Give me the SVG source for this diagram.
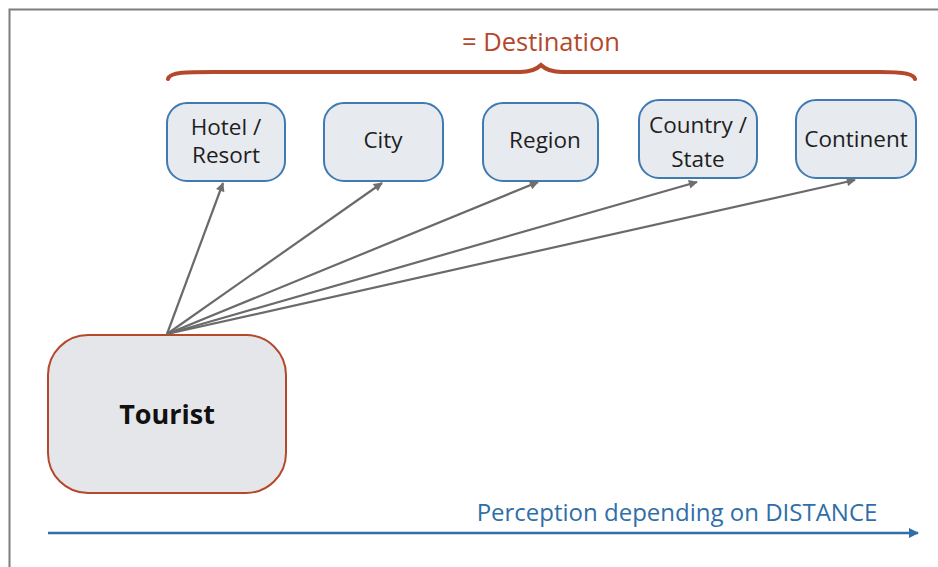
<svg xmlns="http://www.w3.org/2000/svg" width="938" height="567" viewBox="0 0 938 567">
  <defs>
    <marker id="gray-head" viewBox="0 0 10 10" refX="9" refY="5" markerWidth="11" markerHeight="9" markerUnits="userSpaceOnUse" orient="auto">
      <path d="M0,0 L10,5 L0,10 z" fill="#6f6f6f"/>
    </marker>
    <marker id="blue-head" viewBox="0 0 10 10" refX="9" refY="5" markerWidth="14" markerHeight="10" markerUnits="userSpaceOnUse" orient="auto">
      <path d="M0,0 L10,5 L0,10 z" fill="#2f6ea8"/>
    </marker>
  </defs>
  <style>
    .level { fill: #e7eaef; stroke: #3f7ab2; stroke-width: 2; }
    .level-text { font-family: "Open Sans", "Noto Sans", sans-serif; font-size: 22.5px; fill: #1e1e1e; text-anchor: middle; }
    .link { stroke: #6a6a6a; stroke-width: 2.2; fill: none; marker-end: url(#gray-head); }
  </style>

  <rect width="938" height="567" fill="#ffffff"/>
  <!-- outer frame -->
  <path d="M9.5,567 L9.5,9.5 L938,9.5" fill="none" stroke="#7d7d7d" stroke-width="2"/>

  <!-- destination brace -->
  <g id="destination">
    <text x="541" y="51" font-family="Open Sans, Noto Sans, sans-serif" font-size="25.5" fill="#b4482b" text-anchor="middle">= Destination</text>
    <path d="M168,79 C170,71 190,72 230,72 L520,72 C532,72 537,69 541,65 C545,69 550,72 562,72 L880,72 C905,72 914,74 915,79" fill="none" stroke="#b4482b" stroke-width="4" stroke-linecap="round"/>
  </g>

  <g id="hotel">
    <rect class="level" x="167" y="103" width="118" height="78" rx="20"/>
    <text class="level-text" x="226" y="135">Hotel /</text>
    <text class="level-text" x="226" y="163">Resort</text>
  </g>
  <g id="city">
    <rect class="level" x="324" y="103" width="119" height="78" rx="20"/>
    <text class="level-text" x="383" y="148">City</text>
  </g>
  <g id="region">
    <rect class="level" x="483" y="103" width="115" height="78" rx="20"/>
    <text class="level-text" x="545" y="148">Region</text>
  </g>
  <g id="country">
    <rect class="level" x="639" y="100" width="118" height="78" rx="20"/>
    <text class="level-text" x="698" y="133">Country /</text>
    <text class="level-text" x="698" y="167">State</text>
  </g>
  <g id="continent">
    <rect class="level" x="796" y="100" width="120" height="78" rx="20"/>
    <text class="level-text" x="856" y="147">Continent</text>
  </g>

  <g id="tourist">
    <rect x="48" y="335" width="238" height="158" rx="40" fill="#e4e6ea" stroke="#b4482b" stroke-width="2"/>
    <text x="167" y="424" font-family="Open Sans, Noto Sans, sans-serif" font-size="27" font-weight="bold" fill="#111" text-anchor="middle">Tourist</text>
  </g>

  <g id="connectors">
    <line class="link" x1="167" y1="334" x2="223" y2="183"/>
    <line class="link" x1="167" y1="334" x2="382" y2="183"/>
    <line class="link" x1="167" y1="334" x2="538" y2="182"/>
    <line class="link" x1="167" y1="334" x2="697" y2="182"/>
    <line class="link" x1="167" y1="334" x2="855" y2="180"/>
  </g>

  <g id="distance-axis">
    <line x1="48" y1="533" x2="918" y2="533" stroke="#2f6ea8" stroke-width="2.5" marker-end="url(#blue-head)"/>
    <text x="677" y="521" font-family="Open Sans, Noto Sans, sans-serif" font-size="24" fill="#2f6ea8" text-anchor="middle">Perception depending on DISTANCE</text>
  </g>
</svg>
